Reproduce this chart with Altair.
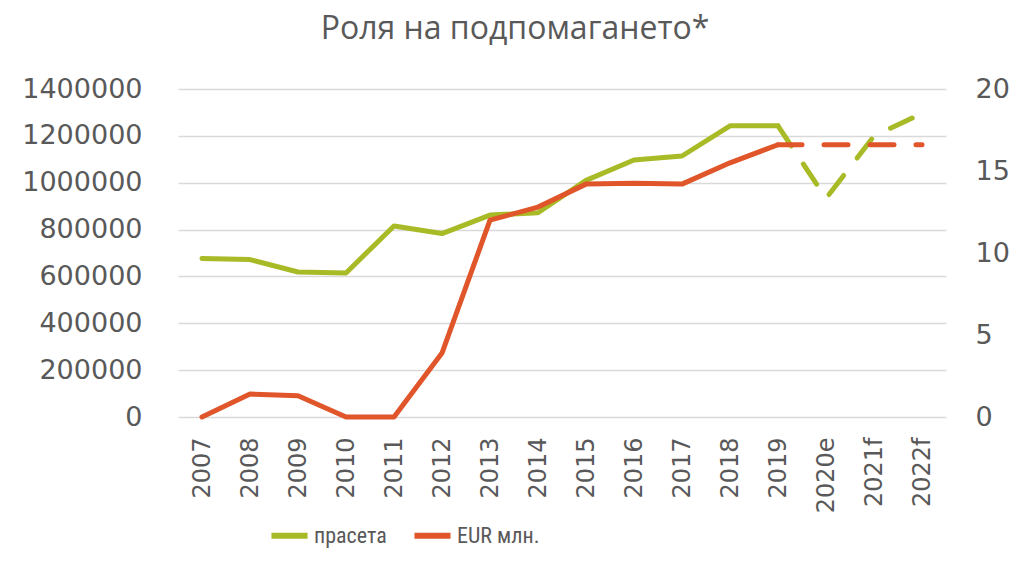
import altair as alt
import pandas as pd

years = ["2007", "2008", "2009", "2010", "2011", "2012", "2013", "2014", "2015",
         "2016", "2017", "2018", "2019", "2020e", "2021f", "2022f"]
pigs = [677000, 672000, 619000, 615000, 815000, 783000, 862000, 872000, 1010000,
        1097000, 1114000, 1243000, 1243000, 933000, 1199000, 1296000]
eur = [0, 1.4, 1.3, 0.0, 0.0, 3.9, 12.0, 12.8, 14.2, 14.25, 14.2, 15.5, 16.6,
       16.6, 16.6, 16.6]
series_names = ["прасета", "EUR млн."]
colors = ["#A9BA27", "#E0552A"]
last_actual = 12  # index of 2019

pig_df = pd.DataFrame({"year": years, "value": pigs, "series": series_names[0],
                       "idx": list(range(len(years)))})
eur_df = pd.DataFrame({"year": years, "value": eur, "series": series_names[1],
                       "idx": list(range(len(years)))})

FONT = "DejaVu Sans"
GREY = "#595959"

x = alt.X("year:N", sort=years,
          scale=alt.Scale(type="point", padding=0.5),
          axis=alt.Axis(title=None, labelAngle=270, labelAlign="right",
                        labelBaseline="middle", labelFontSize=24, labelFont=FONT,
                        labelColor=GREY, labelPadding=20, ticks=False,
                        domain=False, grid=False))

color = alt.Color("series:N",
                  scale=alt.Scale(domain=series_names, range=colors),
                  legend=alt.Legend(title=None, orient="none", direction="horizontal",
                                    legendX=90, legendY=425, columns=2,
                                    labelFontSize=22, labelFont="Liberation Sans Narrow, Roboto Condensed, Roboto",
                                    labelColor=GREY, symbolType="stroke",
                                    symbolSize=1300, symbolStrokeWidth=6,
                                    labelOffset=3, columnPadding=15))

left_axis = alt.Axis(title=None, values=list(range(0, 1400001, 200000)),
                     labelFontSize=27, labelFont=FONT, labelColor=GREY,
                     labelPadding=36, ticks=False, domain=False, grid=True,
                     gridColor="#D9D9D9", gridWidth=1.5, format="d")
right_axis = alt.Axis(title=None, orient="right", values=[0, 5, 10, 15, 20],
                      labelFontSize=27, labelFont=FONT, labelColor=GREY,
                      labelPadding=29, ticks=False, domain=False, grid=False)

y_left = alt.Y("value:Q", scale=alt.Scale(domain=[0, 1400000], nice=False), axis=left_axis)
y_right = alt.Y("value:Q", scale=alt.Scale(domain=[0, 20], nice=False), axis=right_axis)

def part(df, y, dashed):
    base = alt.Chart(df)
    if dashed:
        base = base.transform_filter(alt.datum.idx >= last_actual)
        mark = base.mark_line(strokeWidth=5, strokeCap="round", strokeJoin="round",
                              strokeDash=[24, 22])
    else:
        base = base.transform_filter(alt.datum.idx <= last_actual)
        mark = base.mark_line(strokeWidth=5, strokeCap="round", strokeJoin="round")
    return mark.encode(x=x, y=y, color=color)

green = alt.layer(part(pig_df, y_left, False), part(pig_df, y_left, True))
red = alt.layer(part(eur_df, y_right, False), part(eur_df, y_right, True))

chart = alt.layer(green, red).resolve_scale(y="independent").properties(
    width=768, height=328,
    background="white",
    autosize=alt.AutoSizeParams(type="none"),
    padding={"left": 170, "top": 81, "right": 64, "bottom": 131},
    title=alt.TitleParams("Роля на подпомагането*", fontSize=32, font="Open Sans",
                          color=GREY, fontWeight="normal", anchor="middle",
                          dx=-47, offset=29),
).configure_view(stroke=None)

chart.save("out.html", embed_options={"renderer": "svg", "actions": False})
